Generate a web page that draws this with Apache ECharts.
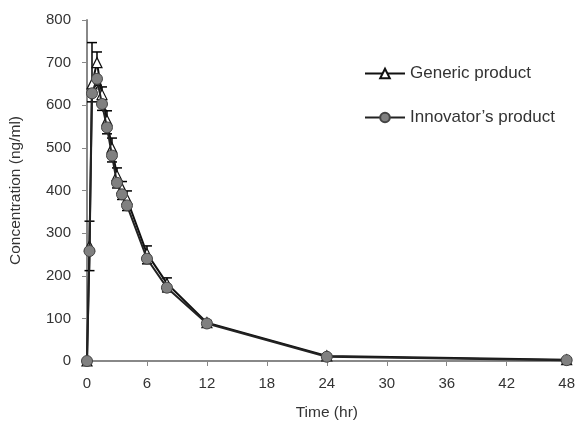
<!DOCTYPE html>
<html><head><meta charset="utf-8">
<script src="https://cdn.jsdelivr.net/npm/echarts@6/dist/echarts.min.js"></script>
<style>html,body{margin:0;padding:0;background:#fff}#c{width:578px;height:434px}</style>
</head><body><div id="c"></div>
<script>
const times = [0, 0.25, 0.5, 1, 1.5, 2, 2.5, 3, 3.5, 4, 6, 8, 12, 24, 48];
const generic = [0, 270, 650, 700, 625, 565, 500, 435, 405, 380, 252, 182, 90, 12, 3];
const genericSD = [0, 58, 97, 25, 18, 22, 23, 18, 16, 19, 18, 13, 5, 3, 2];
const innovator = [0, 258, 628, 662, 603, 548, 482, 418, 391, 365, 240, 172, 88, 10, 2];
const innovatorSD = [0, 46, 20, 15, 15, 15, 15, 12, 12, 12, 12, 10, 5, 3, 2];
const xTicks = [0, 6, 12, 18, 24, 30, 36, 42, 48];
const yTicks = [0, 100, 200, 300, 400, 500, 600, 700, 800];

const font = 'Liberation Sans, Arial, sans-serif';
function errData(vals, sds, dir) {
  return times.map((t, i) => [t, vals[i], vals[i] + dir * sds[i]]);
}
function errRender(params, api) {
  const p0 = api.coord([api.value(0), api.value(1)]);
  const p1 = api.coord([api.value(0), api.value(2)]);
  const w = 5;
  return {
    type: 'group',
    children: [
      {type: 'line', shape: {x1: p0[0], y1: p0[1], x2: p1[0], y2: p1[1]}, style: {stroke: '#000', lineWidth: 1.5}},
      {type: 'line', shape: {x1: p1[0] - w, y1: p1[1], x2: p1[0] + w, y2: p1[1]}, style: {stroke: '#000', lineWidth: 1.5}}
    ]
  };
}
const chart = echarts.init(document.getElementById('c'));
chart.setOption({
  animation: false,
  backgroundColor: '#fff',
  grid: {left: 87, right: 8, top: 20, bottom: 73, containLabel: false},
  legend: {
    orient: 'vertical', left: 359, top: 60, itemGap: 27, itemWidth: 40, itemHeight: 12,
    textStyle: {fontFamily: font, fontSize: 17, color: '#333'},
    data: ['Generic product', "Innovator\u2019s product"]
  },
  xAxis: {
    type: 'value', min: 0, max: 48, interval: 6,
    name: 'Time (hr)', nameLocation: 'middle', nameGap: 44,
    nameTextStyle: {fontFamily: font, fontSize: 15.5, color: '#333'},
    axisLine: {lineStyle: {color: '#888', width: 2}},
    axisTick: {show: true, length: 5, lineStyle: {color: '#888'}},
    axisLabel: {fontFamily: font, fontSize: 15, color: '#333', margin: 15},
    splitLine: {show: false}
  },
  yAxis: {
    type: 'value', min: 0, max: 800, interval: 100,
    name: 'Concentration (ng/ml)', nameLocation: 'middle', nameGap: 63, nameRotate: 90,
    nameTextStyle: {fontFamily: font, fontSize: 15.5, color: '#333'},
    axisLine: {show: true, lineStyle: {color: '#888', width: 2}},
    axisTick: {show: true, length: 5, lineStyle: {color: '#888'}},
    axisLabel: {fontFamily: font, fontSize: 15, color: '#333', margin: 16},
    splitLine: {show: false}
  },
  series: [
    {
      type: 'custom', renderItem: errRender, data: errData(generic, genericSD, 1), z: 1,
      encode: {x: 0, y: [1, 2]}, silent: true
    },
    {
      type: 'custom', renderItem: errRender, data: errData(innovator, innovatorSD, -1), z: 1,
      encode: {x: 0, y: [1, 2]}, silent: true
    },
    {
      name: 'Generic product', type: 'line', z: 3,
      data: times.map((t, i) => [t, generic[i]]),
      symbol: 'triangle', symbolSize: 10, showAllSymbol: true,
      lineStyle: {color: '#111', width: 2},
      itemStyle: {color: '#fff', borderColor: '#111', borderWidth: 1.2}
    },
    {
      name: "Innovator\u2019s product", type: 'line', z: 4,
      data: times.map((t, i) => [t, innovator[i]]),
      symbol: 'circle', symbolSize: 11, showAllSymbol: true,
      lineStyle: {color: '#222', width: 2},
      itemStyle: {color: '#808080', borderColor: '#444', borderWidth: 1}
    }
  ]
});
</script></body></html>
